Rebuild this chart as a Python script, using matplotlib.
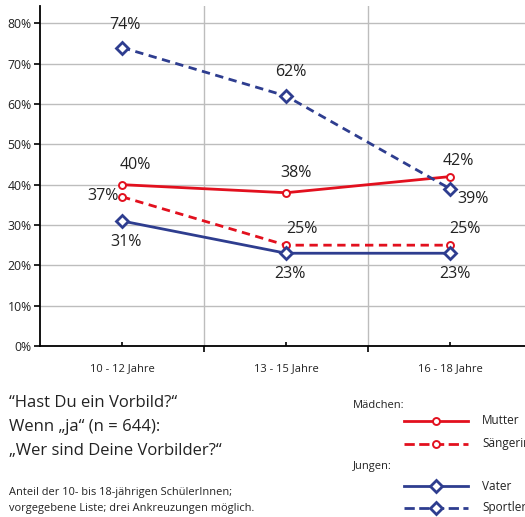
import matplotlib
matplotlib.use("Agg")
import matplotlib.pyplot as plt
from matplotlib.lines import Line2D
import numpy as np

plt.rcParams["font.family"] = ["Open Sans", "DejaVu Sans"]

# data
categories = ["10 - 12 Jahre", "13 - 15 Jahre", "16 - 18 Jahre"]
mutter = [40, 38, 42]
saengerin = [37, 25, 25]
vater = [31, 23, 23]
sportler = [74, 62, 39]
yticks = [0, 10, 20, 30, 40, 50, 60, 70, 80]

RED = "#e2101e"
BLUE = "#2e3d8f"
TXT = "#222222"

fig = plt.figure(figsize=(5.25, 5.17), dpi=100)
W, H = 525, 517
ax = fig.add_axes([40 / W, 1 - 346 / H, 492 / W, 340 / H])

x = np.arange(len(categories))

series = [
    (mutter, RED, "-", "o", 5, 1.4, "Mutter"),
    (saengerin, RED, (0, (3, 2)), "o", 5, 1.4, "Sängerin"),
    (vater, BLUE, "-", "D", 6.5, 2.0, "Vater"),
    (sportler, BLUE, (0, (3, 2)), "D", 6.5, 2.0, "Sportler"),
]
lines = []
for vals, col, ls, mk, ms, mew, name in series:
    ln, = ax.plot(x, vals, color=col, linestyle=ls, linewidth=2.0, marker=mk,
                  markersize=ms, markerfacecolor="white", markeredgecolor=col,
                  markeredgewidth=mew, zorder=3, label=name)
    lines.append(ln)

# value labels (offsets in pixels)
label_offsets = {
    "Mutter": [(13, 20), (10, 20), (8, 16)],
    "Sängerin": [(-19, 1), (16, 16), (15, 16)],
    "Vater": [(4, -21), (4, -21), (5, -21)],
    "Sportler": [(3, 23), (5, 24), (23, -10)],
}
for vals, col, ls, mk, ms, mew, name in series:
    for i, v in enumerate(vals):
        dx, dy = label_offsets[name][i]
        ax.annotate(f"{v}%", (x[i], v), xytext=(dx, dy), textcoords="offset pixels",
                    ha="center", va="center", fontsize=11.5, color=TXT, zorder=4)

ax.set_xlim(-0.5, 2.5)
ax.set_ylim(0, 84.3)
ax.set_yticks(yticks)
ax.set_yticklabels([f"{t}%" for t in yticks], fontsize=8.8, color=TXT)
ax.set_xticks(x)
ax.set_xticklabels(categories, fontsize=8, color=TXT)
ax.set_xticks([0.5, 1.5, 2.5], minor=True)
ax.tick_params(axis="x", which="major", direction="in", length=3, width=1.2, pad=12)
ax.tick_params(axis="x", which="minor", direction="out", length=4, width=1.2)
ax.tick_params(axis="y", direction="out", length=4, width=1.2, pad=2)

ax.grid(axis="y", color="#bdbdbd", linewidth=1.0)
ax.grid(axis="x", which="minor", color="#bdbdbd", linewidth=1.0)
ax.set_axisbelow(True)
for s in ["top", "right"]:
    ax.spines[s].set_visible(False)
for s in ["left", "bottom"]:
    ax.spines[s].set_linewidth(1.3)
    ax.spines[s].set_color("black")

# question text
fig.text(9 / W, 1 - 403 / H, "\u201cHast Du ein Vorbild?\u201c", fontsize=12, color=TXT, va="center")
fig.text(9 / W, 1 - 427 / H, "Wenn \u201eja\u201c (n = 644):", fontsize=12, color=TXT, va="center")
fig.text(9 / W, 1 - 451 / H, "\u201eWer sind Deine Vorbilder?\u201c", fontsize=12, color=TXT, va="center")
fig.text(9 / W, 1 - 492 / H, "Anteil der 10- bis 18-jährigen SchülerInnen;", fontsize=7.9, color=TXT, va="center")
fig.text(9 / W, 1 - 509 / H, "vorgegebene Liste; drei Ankreuzungen möglich.", fontsize=7.9, color=TXT, va="center")

# legend drawn by hand
fig.text(353 / W, 1 - 405 / H, "Mädchen:", fontsize=8, color=TXT, va="center")
fig.text(353 / W, 1 - 466 / H, "Jungen:", fontsize=8, color=TXT, va="center")
leg_y = [421, 444, 486, 508]
for ln, yy in zip(lines, leg_y):
    yf = 1 - yy / H
    fig.add_artist(Line2D([404 / W, 468 / W], [yf, yf], color=ln.get_color(),
                          linestyle=ln.get_linestyle(), linewidth=2.0))
    fig.add_artist(Line2D([436 / W], [yf], marker=ln.get_marker(), markersize=ln.get_markersize(),
                          markerfacecolor="white", markeredgecolor=ln.get_color(),
                          markeredgewidth=ln.get_markeredgewidth(), linestyle="none"))
    fig.text(482 / W, yf, ln.get_label(), fontsize=8.5, color=TXT, va="center")

fig.savefig("out.png", dpi=100)
